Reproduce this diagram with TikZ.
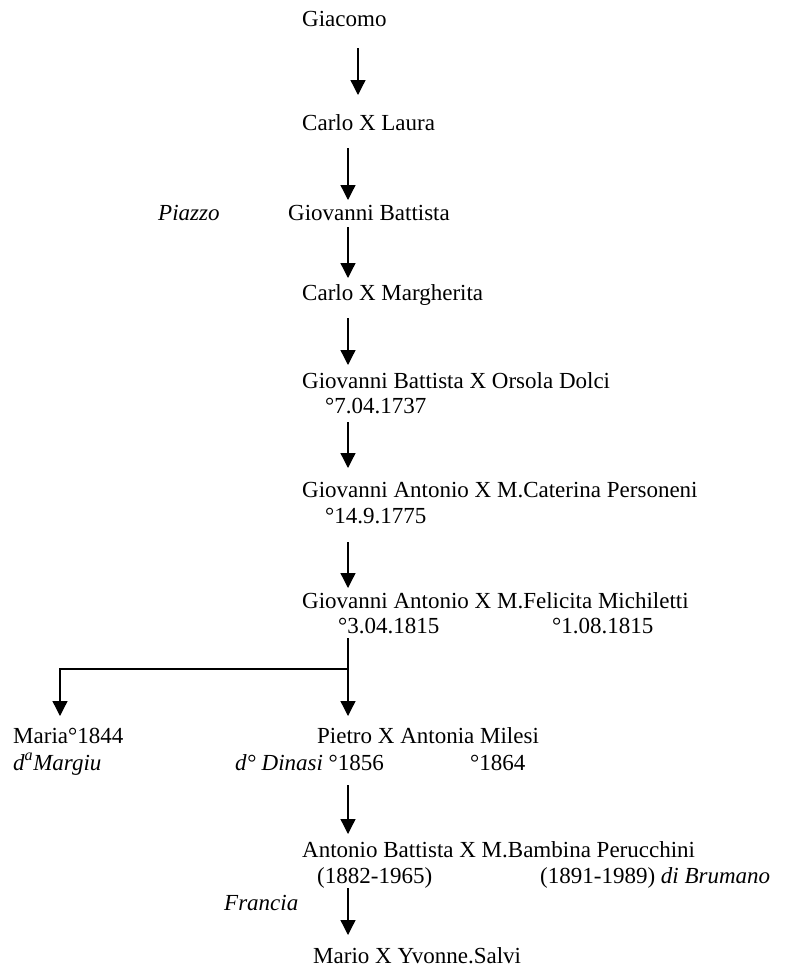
\documentclass[tikz,border=0pt]{standalone}
\usepackage{fontspec}
\setmainfont{Liberation Serif}
\usetikzlibrary{arrows.meta}
\begin{document}
\begin{tikzpicture}[x=1pt,y=1pt,
  txt/.style={anchor=base west,inner sep=0pt,font=\fontsize{23}{27}\selectfont},
  descent/.style={line width=1.3pt,-{Triangle[width=15pt,length=15pt]}},
  link/.style={line width=1.3pt}]
\useasboundingbox (0,0) rectangle (790,-969);

% generations, one line of text each
\node[txt] (g)   at (302,-27)  {Giacomo};
\node[txt] (cl)  at (302,-130) {Carlo X Laura};
\node[txt] (pz)  at (158,-220) {\itshape Piazzo};
\node[txt] (gb)  at (288,-220) {Giovanni Battista};
\node[txt] (cm)  at (302,-300) {Carlo X Margherita};
\node[txt] (gbo) at (302,-388) {Giovanni Battista X Orsola Dolci};
\node[txt] (d1)  at (325,-413) {°7.04.1737};
\node[txt] (gac) at (302,-497) {Giovanni Antonio X M.Caterina Personeni};
\node[txt] (d2)  at (325,-523) {°14.9.1775};
\node[txt] (gaf) at (302,-608) {Giovanni Antonio X M.Felicita Michiletti};
\node[txt] (d3)  at (338,-633) {°3.04.1815};
\node[txt] (d4)  at (552,-633) {°1.08.1815};
\node[txt] (ma)  at (13,-743)  {Maria°1844};
\node[txt] (mg)  at (13,-770)  {\itshape d\textsuperscript{a}Margiu};
\node[txt] (pa)  at (317,-743) {Pietro X Antonia Milesi};
\node[txt] (dd)  at (235,-770) {\textit{d° Dinasi} °1856};
\node[txt] (d5)  at (470,-770) {°1864};
\node[txt] (ab)  at (302,-857) {Antonio Battista X M.Bambina Perucchini};
\node[txt] (d6)  at (317,-883) {(1882-1965)};
\node[txt] (d7)  at (540,-883) {(1891-1989) \textit{di Brumano}};
\node[txt] (fr)  at (224,-910) {\itshape Francia};
\node[txt] (mx)  at (313,-963) {Mario X Yvonne.Salvi};

% arrow end points
\coordinate (a1s) at (358,-48);  \coordinate (a1e) at (358,-95);
\coordinate (a2s) at (348,-148); \coordinate (a2e) at (348,-200);
\coordinate (a3s) at (348,-227); \coordinate (a3e) at (348,-278);
\coordinate (a4s) at (348,-318); \coordinate (a4e) at (348,-365);
\coordinate (a5s) at (348,-422); \coordinate (a5e) at (348,-468);
\coordinate (a6s) at (348,-542); \coordinate (a6e) at (348,-588);
\coordinate (b0)  at (348,-638); \coordinate (bj)  at (348,-669);
\coordinate (bp)  at (348,-716); \coordinate (bm)  at (60,-716);
\coordinate (a7s) at (348,-785); \coordinate (a7e) at (348,-834);
\coordinate (a8s) at (348,-888); \coordinate (a8e) at (348,-935);

\draw[descent] (a1s) -- (a1e);
\draw[descent] (a2s) -- (a2e);
\draw[descent] (a3s) -- (a3e);
\draw[descent] (a4s) -- (a4e);
\draw[descent] (a5s) -- (a5e);
\draw[descent] (a6s) -- (a6e);
\draw[link]    (b0) -- (bj);
\draw[descent] (bj) -- (bp);
\draw[descent] (bj) -| (bm);
\draw[descent] (a7s) -- (a7e);
\draw[descent] (a8s) -- (a8e);
\end{tikzpicture}
\end{document}
